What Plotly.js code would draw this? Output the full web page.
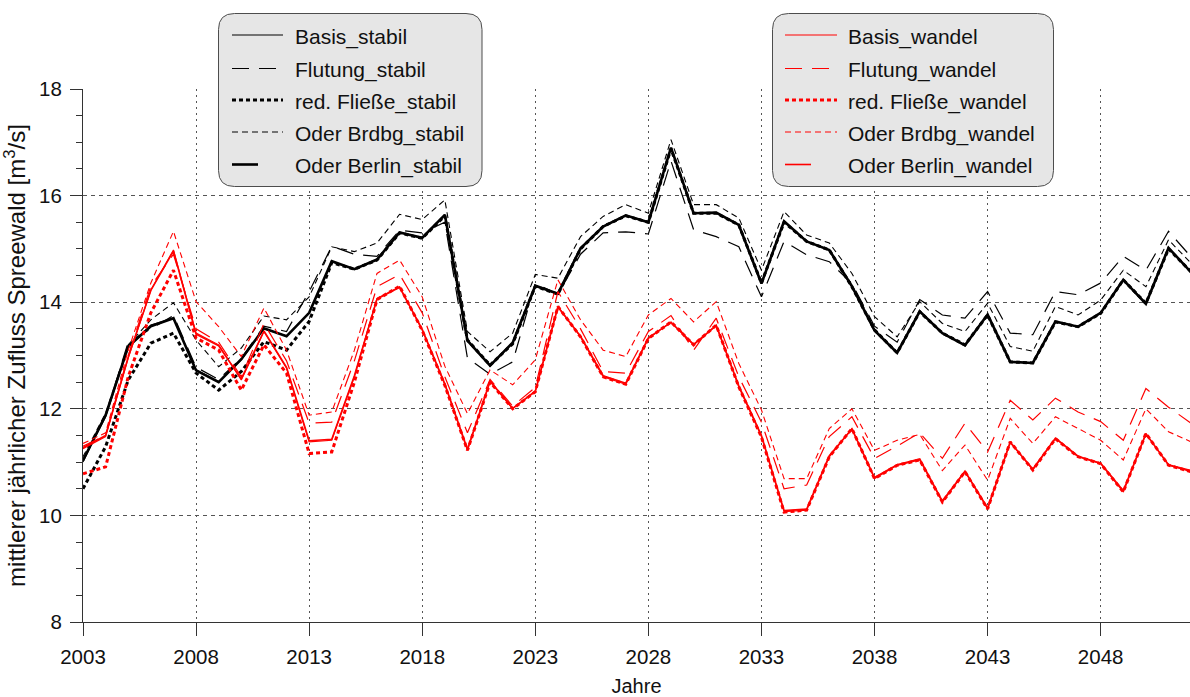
<!DOCTYPE html>
<html>
<head>
<meta charset="utf-8">
<script src="https://cdn.plot.ly/plotly-3.0.1.min.js"></script>
<style>html,body{margin:0;padding:0;background:#fff}#chart{width:1190px;height:697px}</style>
</head>
<body>
<div id="chart"></div>
<script>
// ---- data (mean annual inflow Spreewald, m3/s) ----
const years = [2003,2004,2005,2006,2007,2008,2009,2010,2011,2012,
               2013,2014,2015,2016,2017,2018,2019,2020,2021,2022,
               2023,2024,2025,2026,2027,2028,2029,2030,2031,2032,
               2033,2034,2035,2036,2037,2038,2039,2040,2041,2042,
               2043,2044,2045,2046,2047,2048,2049,2050,2051,2052];

const basisStabil = [11.03,11.85,13.15,13.57,13.70,12.73,12.51,12.92,13.50,13.37,
                     13.79,14.76,14.62,14.79,15.31,15.20,15.64,13.29,12.82,13.23,
                     14.30,14.15,15.01,15.42,15.62,15.50,16.89,15.67,15.67,15.45,
                     14.36,15.51,15.14,14.98,14.29,13.48,13.06,13.82,13.42,13.20,
                     13.76,12.88,12.86,13.63,13.54,13.79,14.42,13.98,15.01,14.57];
const flutungStabil = [11.00,11.88,13.25,13.50,13.75,12.78,12.55,12.95,13.55,13.45,
                       14.20,15.05,14.90,14.86,15.35,15.30,15.50,12.95,12.65,12.88,
                       14.35,14.15,14.90,15.30,15.32,15.28,16.65,15.36,15.23,15.04,
                       14.10,15.14,14.89,14.76,14.35,13.55,13.25,14.05,13.76,13.70,
                       14.20,13.42,13.39,14.20,14.14,14.36,14.86,14.60,15.33,14.85];
const redFliesseStabil = [10.50,11.29,12.54,13.23,13.42,12.67,12.35,12.70,13.26,13.10,
                          13.64,14.74,14.62,14.79,15.30,15.20,15.62,13.29,12.82,13.22,
                          14.30,14.15,15.00,15.42,15.62,15.50,16.88,15.67,15.67,15.45,
                          14.36,15.50,15.14,14.98,14.29,13.48,13.05,13.82,13.42,13.20,
                          13.76,12.88,12.86,13.63,13.54,13.79,14.42,13.98,15.00,14.57];
const brdbgStabil = [11.10,11.92,13.20,13.67,13.99,13.29,12.79,13.14,13.74,13.67,
                     14.10,15.04,14.95,15.11,15.65,15.55,15.92,13.45,13.07,13.42,
                     14.52,14.45,15.23,15.61,15.83,15.67,17.05,15.83,15.83,15.58,
                     14.60,15.70,15.26,15.11,14.54,13.73,13.35,14.01,13.60,13.45,
                     13.98,13.17,13.08,13.92,13.76,14.04,14.60,14.29,15.17,14.73];
const berlinStabil = [11.03,11.88,13.17,13.55,13.70,12.72,12.50,12.93,13.51,13.36,
                      13.80,14.77,14.62,14.80,15.31,15.21,15.64,13.28,12.81,13.24,
                      14.31,14.16,15.01,15.42,15.63,15.50,16.90,15.67,15.68,15.45,
                      14.35,15.52,15.14,14.98,14.30,13.47,13.05,13.83,13.42,13.19,
                      13.77,12.88,12.86,13.64,13.54,13.80,14.42,13.97,15.02,14.56];

const basisWandel = [11.25,11.48,12.95,14.23,14.98,13.42,13.20,12.54,13.45,12.76,
                     11.38,11.41,12.60,14.07,14.29,13.48,12.45,11.22,12.51,12.00,
                     12.32,13.92,13.35,12.60,12.46,13.32,13.63,13.20,13.57,12.41,
                     11.48,10.07,10.10,11.10,11.63,10.69,10.94,11.04,10.25,10.82,
                     10.12,11.38,10.85,11.44,11.10,10.97,10.44,11.54,10.94,10.82];
const flutungWandel = [11.30,11.50,13.00,14.30,14.90,13.50,13.25,12.60,13.60,12.90,
                       11.73,11.75,12.90,14.29,14.52,13.80,12.60,11.55,12.55,12.05,
                       12.40,14.20,13.50,12.70,12.67,13.45,13.75,13.10,13.70,12.60,
                       11.75,10.50,10.57,11.48,11.85,11.07,11.30,11.55,11.07,11.73,
                       11.19,12.16,11.79,12.20,11.94,11.76,11.41,12.38,12.03,11.73];
const redFliesseWandel = [10.78,10.91,12.60,13.80,14.60,13.33,13.10,12.35,13.20,12.67,
                          11.16,11.19,12.50,14.05,14.30,13.47,12.44,11.22,12.50,12.00,
                          12.32,13.92,13.35,12.60,12.46,13.32,13.63,13.20,13.57,12.41,
                          11.47,10.06,10.10,11.10,11.63,10.69,10.94,11.04,10.25,10.82,
                          10.12,11.38,10.85,11.44,11.10,10.97,10.44,11.54,10.94,10.82];
const brdbgWandel = [11.35,11.55,13.10,14.36,15.33,14.01,13.54,12.98,13.89,13.10,
                     11.88,11.94,13.10,14.54,14.79,14.10,12.80,11.91,12.73,12.45,
                     12.92,14.42,13.67,13.10,12.98,13.76,14.07,13.63,14.01,12.85,
                     11.98,10.69,10.69,11.63,12.00,11.22,11.41,11.52,10.84,11.32,
                     10.66,11.82,11.35,11.85,11.63,11.41,11.04,12.00,11.57,11.38];
const berlinWandel = [11.27,11.50,12.97,14.22,14.96,13.40,13.18,12.56,13.46,12.78,
                      11.40,11.43,12.62,14.06,14.28,13.49,12.47,11.24,12.52,12.01,
                      12.33,13.91,13.36,12.62,12.48,13.33,13.62,13.21,13.56,12.43,
                      11.50,10.09,10.12,11.12,11.62,10.71,10.95,11.06,10.27,10.83,
                      10.14,11.37,10.87,11.45,11.11,10.98,10.46,11.53,10.95,10.84];

const namesStabil = ["Basis_stabil","Flutung_stabil","red. Fließe_stabil","Oder Brdbg_stabil","Oder Berlin_stabil"];
const namesWandel = ["Basis_wandel","Flutung_wandel","red. Fließe_wandel","Oder Brdbg_wandel","Oder Berlin_wandel"];
const yTicks = [8,10,12,14,16,18];
const xTicks = [2003,2008,2013,2018,2023,2028,2033,2038,2043,2048];

// ---- styles ----
const styles = [
  {dash:"solid", width:1.2, sample:"full"},
  {dash:"17px,10px", width:1.2, sample:"full"},
  {dash:"4px,3px", width:3, sample:"full"},
  {dash:"6px,4px", width:1.1, sample:"full"},
  {dash:"solid", width:2.6, sample:"short"}
];
const stabilSeries = [basisStabil, flutungStabil, redFliesseStabil, brdbgStabil, berlinStabil];
const wandelSeries = [basisWandel, flutungWandel, redFliesseWandel, brdbgWandel, berlinWandel];

const traces = [];
stabilSeries.forEach((s,i)=>traces.push({x:years,y:s,type:"scatter",mode:"lines",name:namesStabil[i],
  showlegend:false,line:{color:"#000000",dash:styles[i].dash,width:styles[i].width}}));
wandelSeries.forEach((s,i)=>traces.push({x:years,y:s,type:"scatter",mode:"lines",name:namesWandel[i],
  showlegend:false,line:{color:"#ff0000",dash:styles[i].dash,width:i===4?1.6:styles[i].width}}));

// ---- layout geometry (pixels -> paper) ----
const L=83, T=89, W=1107, H=533;
const px=(v)=>(v-L)/W, py=(v)=>(T+H-v)/H;

function roundRect(x0,y0,x1,y1,r){
  const a=px(x0),b=px(x1),c=py(y0),d=py(y1),rx=r/W,ry=r/H;
  return `M${a+rx},${c} L${b-rx},${c} Q${b},${c} ${b},${c-ry} L${b},${d+ry} Q${b},${d} ${b-rx},${d} L${a+rx},${d} Q${a},${d} ${a},${d+ry} L${a},${c-ry} Q${a},${c} ${a+rx},${c} Z`;
}

const shapes=[], annotations=[];
const rowsY=[35,68.5,100,132,164.5];
function addLegend(boxX0, boxX1, sampleX0, sampleX1, shortX1, textX, names, color, redBerlin){
  shapes.push({type:"path",xref:"paper",yref:"paper",layer:"above",path:roundRect(boxX0,13.5,boxX1,186.5,16),
    fillcolor:"#e6e6e6",line:{color:"#4d4d4d",width:1}});
  names.forEach((n,i)=>{
    const st=styles[i];
    const x1 = st.sample==="short"?shortX1:sampleX1;
    let w = st.width; if(redBerlin && i===4) w=1.6;
    shapes.push({type:"line",xref:"paper",yref:"paper",layer:"above",
      x0:px(sampleX0),x1:px(x1),y0:py(rowsY[i]),y1:py(rowsY[i]),
      line:{color:color,width:w,dash:st.dash}});
    annotations.push({xref:"paper",yref:"paper",x:px(textX),y:py(rowsY[i]+1.5),xanchor:"left",yanchor:"middle",
      text:n,showarrow:false,font:{size:21,color:"#111"}});
  });
}
addLegend(218.5,482,232,283,258,293,namesStabil,"#000000",false);
addLegend(772.5,1053.5,785,837,811,846,namesWandel,"#ff0000",true);

const layout={
  width:1190,height:697,
  margin:{l:L,r:0,t:T,b:75,pad:0},
  paper_bgcolor:"#ffffff",plot_bgcolor:"#ffffff",
  font:{family:"Liberation Sans, Arial, sans-serif",size:20,color:"#111"},
  showlegend:false,
  xaxis:{range:[2003,2051.95],tickmode:"array",tickvals:xTicks,ticktext:xTicks.map(String),
    ticks:"outside",ticklen:13,tickwidth:1,tickcolor:"#333",ticklabelstandoff:3,
    showline:true,linecolor:"#333",linewidth:1,
    showgrid:true,gridcolor:"#555",gridwidth:1,griddash:"2px,4px",zeroline:false,
    tickfont:{size:20.5},
    title:{text:"Jahre",font:{size:20},standoff:14}},
  yaxis:{range:[8,18],tickmode:"array",tickvals:yTicks,ticktext:yTicks.map(String),
    ticks:"outside",ticklen:12,tickwidth:1,tickcolor:"#333",ticklabelstandoff:4,
    showline:true,linecolor:"#333",linewidth:1,
    showgrid:true,gridcolor:"#555",gridwidth:1,griddash:"4px,4px",zeroline:false,
    minor:{dtick:0.5,tick0:8,ticks:"outside",ticklen:6,tickcolor:"#333",showgrid:false},
    tickfont:{size:20.5},
    title:{text:"mittlerer jährlicher Zufluss Spreewald [m<sup>3</sup>/s]",font:{size:24},standoff:10}},
  shapes:shapes,annotations:annotations
};
Plotly.newPlot("chart",traces,layout,{displayModeBar:false,staticPlot:true});
</script>
</body>
</html>
